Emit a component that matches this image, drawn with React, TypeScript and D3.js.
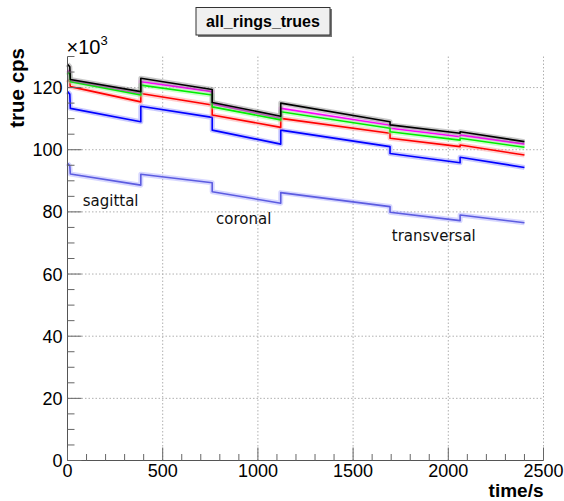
import React from "react";
import * as d3 from "d3";

// ---- data (time in s, rate in 10^3 cps) ----
const segStart = [0, 385, 760, 1120, 1694, 2062];
const segEnd = [385, 760, 1120, 1694, 2062, 2400];

const blackSpike = 127.5;
const blackStarts = [122.6, 123.0, 115.2, 115.0, 108.0, 105.8];
const blackEnds = [118.7, 119.4, 110.8, 109.0, 105.3, 102.6];

const magentaSpike = 125.6;
const magentaStarts = [122.2, 121.9, 114.7, 113.3, 106.9, 104.7];
const magentaEnds = [118.0, 118.7, 110.1, 107.9, 104.2, 101.8];

const greenSpike = 125.0;
const greenStarts = [121.9, 120.8, 113.8, 112.2, 105.8, 103.7];
const greenEnds = [117.6, 117.6, 109.6, 106.9, 103.1, 100.8];

const redSpike = 122.6;
const redStarts = [120.3, 118.1, 111.2, 110.1, 103.7, 101.5];
const redEnds = [115.4, 114.4, 107.2, 105.3, 101.0, 98.3];

const blueSpike = 118.7;
const blueStarts = [113.3, 114.0, 106.3, 106.3, 98.8, 97.6];
const blueEnds = [109.0, 110.4, 101.8, 101.0, 95.8, 94.3];

const purpleSpike = 95.6;
const purpleStarts = [92.2, 92.1, 86.5, 86.2, 79.9, 79.0];
const purpleEnds = [88.6, 89.4, 82.8, 81.7, 77.2, 76.5];

const xTicks = [0, 500, 1000, 1500, 2000, 2500];
const yTicks = [0, 20, 40, 60, 80, 100, 120];

const labelTexts = ["sagittal", "coronal", "transversal"];
const labelT = [80, 780, 1703];
const labelV = [81.9, 76.1, 70.7];

// ---- layout ----
const W = 564;
const H = 501;
const L = 67.5, R = 543.5, T = 56.5, B = 460.5;

const x = d3.scaleLinear().domain([0, 2500]).range([L, R]);
const y = d3.scaleLinear().domain([0, 130]).range([B, T]);

type S = { spike: number; starts: number[]; ends: number[]; color: string; halo: string };

const series: S[] = [
  { spike: purpleSpike, starts: purpleStarts, ends: purpleEnds, color: "#5c5ce0", halo: "#9a9aff" },
  { spike: blueSpike, starts: blueStarts, ends: blueEnds, color: "#0000ff", halo: "#7777ff" },
  { spike: redSpike, starts: redStarts, ends: redEnds, color: "#ff0000", halo: "#ff8888" },
  { spike: magentaSpike, starts: magentaStarts, ends: magentaEnds, color: "#ff00ff", halo: "#ff88ff" },
  { spike: greenSpike, starts: greenStarts, ends: greenEnds, color: "#00ee00", halo: "#88ff88" },
  { spike: blackSpike, starts: blackStarts, ends: blackEnds, color: "#000000", halo: "#777777" },
];

function points(s: S): [number, number][] {
  const p: [number, number][] = [];
  p.push([0, s.spike]);
  p.push([12, s.spike - 0.8]);
  p.push([15, s.starts[0]]);
  p.push([segEnd[0], s.ends[0]]);
  for (let i = 1; i < segStart.length; i++) {
    p.push([segStart[i], s.starts[i]]);
    p.push([segEnd[i], s.ends[i]]);
  }
  return p;
}

const line = d3
  .line<[number, number]>()
  .x((d) => x(d[0]))
  .y((d) => y(d[1]));

const FONT = "'Liberation Sans', Arial, Helvetica, sans-serif";

export default function App() {
  const xMinor = d3.range(0, 2501, 100).filter((v) => v % 500 !== 0);
  const yMinor = d3.range(0, 131, 5).filter((v) => v % 20 !== 0);
  return (
    <svg
      width={W}
      height={H}
      style={{ position: "absolute", left: 0, top: 0, background: "#fff" }}
      fontFamily={FONT}
    >
      <rect x={0} y={0} width={W} height={H} fill="#fff" />
      {/* grid */}
      {xTicks.filter((v) => v > 0).map((v) => (
        <line key={"gx" + v} x1={x(v)} x2={x(v)} y1={T} y2={B} stroke="#b0b0b0" strokeWidth={1} strokeDasharray="1.5,2" />
      ))}
      {yTicks.filter((v) => v > 0).map((v) => (
        <line key={"gy" + v} x1={L} x2={R} y1={y(v)} y2={y(v)} stroke="#b0b0b0" strokeWidth={1} strokeDasharray="1.5,2" />
      ))}
      {/* data */}
      {series.map((s, i) => (
        <g key={"s" + i}>
          <path d={line(points(s)) || ""} fill="none" stroke={s.halo} strokeWidth={5} strokeOpacity={0.4} strokeLinejoin="round" />
          <path d={line(points(s)) || ""} fill="none" stroke={s.color} strokeWidth={1.6} strokeLinejoin="round" />
        </g>
      ))}
      {/* axes */}
      <line x1={L} x2={L} y1={T} y2={B} stroke="#555" strokeWidth={1} />
      <line x1={L} x2={R} y1={B} y2={B} stroke="#555" strokeWidth={1} />
      {xTicks.map((v) => (
        <line key={"xt" + v} x1={x(v)} x2={x(v)} y1={B} y2={B - 13} stroke="#666" strokeWidth={1} />
      ))}
      {xMinor.map((v) => (
        <line key={"xm" + v} x1={x(v)} x2={x(v)} y1={B} y2={B - 6.5} stroke="#666" strokeWidth={1} />
      ))}
      {yTicks.map((v) => (
        <line key={"yt" + v} x1={L} x2={L + 14} y1={y(v)} y2={y(v)} stroke="#666" strokeWidth={1} />
      ))}
      {yMinor.map((v) => (
        <line key={"ym" + v} x1={L} x2={L + 7} y1={y(v)} y2={y(v)} stroke="#666" strokeWidth={1} />
      ))}
      {xTicks.map((v) => (
        <text key={"xl" + v} x={x(v)} y={B + 16} textAnchor="middle" fontSize={18} fill="#000">
          {v}
        </text>
      ))}
      {yTicks.map((v) => (
        <text key={"yl" + v} x={L - 5} y={y(v) + 6.5} textAnchor="end" fontSize={18} fill="#000">
          {v}
        </text>
      ))}
      <text x={L - 1} y={54} fontSize={20} fill="#000">
        ×10<tspan dy={-9} fontSize={13}>3</tspan>
      </text>
      {/* axis titles */}
      <text x={R} y={497} textAnchor="end" fontSize={19} fontWeight="bold" fill="#000">
        time/s
      </text>
      <text transform={`translate(24,48) rotate(-90)`} textAnchor="end" fontSize={20.5} fontWeight="bold" fill="#000">
        true cps
      </text>
      {/* labels */}
      {labelTexts.map((t, i) => (
        <text key={t} x={x(labelT[i])} y={y(labelV[i])} fontSize={15} fill="#111" fontFamily="'DejaVu Sans', sans-serif">
          {t}
        </text>
      ))}
      {/* title box */}
      <rect x={198} y={9} width={134} height={28} fill="#777" />
      <rect x={196} y={7.5} width={134} height={27.5} fill="#f0f0f0" stroke="#333" strokeWidth={1} />
      <text x={263} y={27} textAnchor="middle" fontSize={16} fontWeight="bold" fill="#000">
        all_rings_trues
      </text>
    </svg>
  );
}
